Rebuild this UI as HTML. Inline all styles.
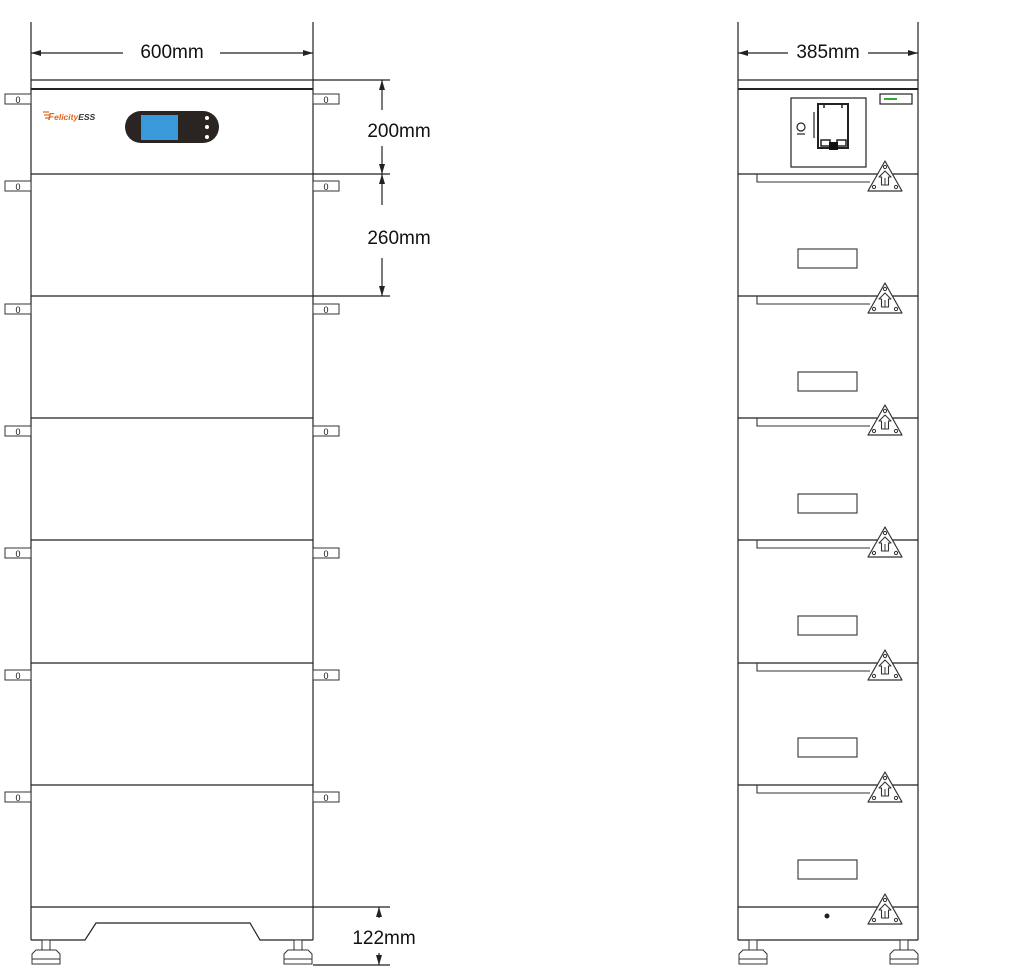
<!DOCTYPE html>
<html><head><meta charset="utf-8"><style>
html,body{margin:0;padding:0;background:#fff;}
svg{display:block;}
text{font-family:"Liberation Sans",Arial,sans-serif;fill:#111;}
</style></head><body>
<svg width="1023" height="971" viewBox="0 0 1023 971" xmlns="http://www.w3.org/2000/svg">
<defs>
<marker id="ar" viewBox="0 0 10 6" refX="10" refY="3" markerWidth="10" markerHeight="6" orient="auto-start-reverse" markerUnits="userSpaceOnUse"><path d="M0,0 L10,3 L0,6 z" fill="#222"/></marker>
<g id="tri">
<path d="M0,-14 L17,16 L-17,16 Z" fill="#fff" stroke="#333" stroke-width="1.2" stroke-linejoin="round"/>
<circle cx="0" cy="-8" r="1.6" fill="none" stroke="#333"/><circle cx="-11" cy="12" r="1.6" fill="none" stroke="#333"/><circle cx="11" cy="12" r="1.6" fill="none" stroke="#333"/>
<path d="M-3.5,10 V2 H-6 L0,-4 L6,2 H3.5 V10 Z" fill="none" stroke="#333" stroke-width="1.1" stroke-linejoin="round"/>
<line x1="0" y1="3" x2="0" y2="10" stroke="#333" stroke-width="1"/>
</g>
<g id="hl"><rect x="0" y="0" width="26" height="10" fill="#fff" stroke="#333" stroke-width="1"/><text x="13" y="9" font-size="9" text-anchor="middle">0</text></g>
<g id="ft"><rect x="10" y="0" width="8" height="10" fill="#fff" stroke="#333"/><path d="M4,10 H24 L28,14 V24 H0 V14 Z" fill="#fff" stroke="#333"/><line x1="0" y1="19" x2="28" y2="19" stroke="#333"/></g>
</defs>
<g stroke="#222" stroke-width="1.2" fill="none">
<line x1="31" y1="22" x2="31" y2="940"/><line x1="313" y1="22" x2="313" y2="940"/>
<line x1="31" y1="53" x2="123" y2="53" marker-start="url(#ar)"/><line x1="220" y1="53" x2="313" y2="53" marker-end="url(#ar)"/>
<line x1="31" y1="80" x2="390" y2="80"/><line x1="31" y1="89" x2="313" y2="89" stroke-width="2"/>
<line x1="31" y1="174" x2="390" y2="174"/><line x1="31" y1="296" x2="390" y2="296"/>
<line x1="31" y1="418" x2="313" y2="418"/><line x1="31" y1="540" x2="313" y2="540"/>
<line x1="31" y1="663" x2="313" y2="663"/><line x1="31" y1="785" x2="313" y2="785"/>
<line x1="31" y1="907" x2="390" y2="907"/><line x1="313" y1="965" x2="390" y2="965"/>
<path d="M31,940 H85 L96,923 H250 L260,940 H313"/>
<line x1="382" y1="80" x2="382" y2="110" marker-start="url(#ar)"/><line x1="382" y1="146" x2="382" y2="174" marker-end="url(#ar)"/>
<line x1="382" y1="174" x2="382" y2="205" marker-start="url(#ar)"/><line x1="382" y1="258" x2="382" y2="296" marker-end="url(#ar)"/>
<line x1="379" y1="907" x2="379" y2="918" marker-start="url(#ar)"/><line x1="379" y1="953" x2="379" y2="965" marker-end="url(#ar)"/>
<line x1="738" y1="22" x2="738" y2="940"/><line x1="918" y1="22" x2="918" y2="940"/>
<line x1="738" y1="53" x2="788" y2="53" marker-start="url(#ar)"/><line x1="868" y1="53" x2="918" y2="53" marker-end="url(#ar)"/>
<line x1="738" y1="80" x2="918" y2="80"/><line x1="738" y1="89" x2="918" y2="89" stroke-width="2"/>
<line x1="738" y1="174" x2="918" y2="174"/><line x1="738" y1="296" x2="918" y2="296"/>
<line x1="738" y1="418" x2="918" y2="418"/><line x1="738" y1="540" x2="918" y2="540"/>
<line x1="738" y1="663" x2="918" y2="663"/><line x1="738" y1="785" x2="918" y2="785"/>
<line x1="738" y1="907" x2="918" y2="907"/><line x1="738" y1="940" x2="918" y2="940"/>
<rect x="791" y="98" width="75" height="69"/>
<rect x="880" y="94" width="32" height="10"/>
<path d="M818,104 h30 v44 h-30 z" stroke-width="2"/><rect x="821" y="140" width="9" height="6" stroke-width="1.5"/><rect x="837" y="140" width="9" height="6" stroke-width="1.5"/>
<line x1="824" y1="104" x2="824" y2="108" stroke-width="1.5"/><line x1="842" y1="104" x2="842" y2="108" stroke-width="1.5"/>
<circle cx="801" cy="127" r="4"/><line x1="797" y1="134" x2="805" y2="134"/><line x1="814" y1="112" x2="814" y2="138"/>
</g>
<line x1="884" y1="99" x2="897" y2="99" stroke="#3a3" stroke-width="2"/>
<rect x="829" y="142" width="9" height="8" fill="#111"/>
<g stroke="#333" stroke-width="1.1" fill="none">
<path d="M757,174 V182 H870"/><path d="M757,296 V304 H870"/><path d="M757,418 V426 H870"/><path d="M757,540 V548 H870"/><path d="M757,663 V671 H870"/><path d="M757,785 V793 H870"/>
<rect x="798" y="249" width="59" height="19"/><rect x="798" y="372" width="59" height="19"/><rect x="798" y="494" width="59" height="19"/><rect x="798" y="616" width="59" height="19"/><rect x="798" y="738" width="59" height="19"/><rect x="798" y="860" width="59" height="19"/>
</g>
<circle cx="827" cy="916" r="2.5" fill="#222"/>
<use href="#tri" x="885" y="175"/><use href="#tri" x="885" y="297"/><use href="#tri" x="885" y="419"/><use href="#tri" x="885" y="541"/><use href="#tri" x="885" y="664"/><use href="#tri" x="885" y="786"/><use href="#tri" x="885" y="908"/>
<use href="#hl" x="5" y="94"/><use href="#hl" x="313" y="94"/>
<use href="#hl" x="5" y="181"/><use href="#hl" x="313" y="181"/>
<use href="#hl" x="5" y="304"/><use href="#hl" x="313" y="304"/>
<use href="#hl" x="5" y="426"/><use href="#hl" x="313" y="426"/>
<use href="#hl" x="5" y="548"/><use href="#hl" x="313" y="548"/>
<use href="#hl" x="5" y="670"/><use href="#hl" x="313" y="670"/>
<use href="#hl" x="5" y="792"/><use href="#hl" x="313" y="792"/>
<use href="#ft" x="32" y="940"/><use href="#ft" x="284" y="940"/>
<use href="#ft" x="739" y="940"/><use href="#ft" x="890" y="940"/>
<rect x="125" y="111" width="94" height="32" rx="16" fill="#2a2522"/>
<rect x="141" y="115" width="37" height="25" fill="#3a9ad9"/>
<circle cx="207" cy="118" r="2" fill="#fff"/><circle cx="207" cy="127" r="2" fill="#fff"/><circle cx="207" cy="137" r="2" fill="#fff"/>
<g stroke="#e0661c" stroke-width="1.2"><line x1="43" y1="112" x2="49" y2="112"/><line x1="44" y1="115" x2="49" y2="115"/><line x1="45" y1="118" x2="49" y2="118"/></g>
<text x="48" y="120" font-size="10" font-style="italic" font-weight="bold" style="fill:#e0661c">F<tspan font-size="8.5">elicity</tspan><tspan font-size="8.5" style="fill:#333">ESS</tspan></text>
<text x="172" y="58" font-size="19" text-anchor="middle">600mm</text>
<text x="828" y="58" font-size="19" text-anchor="middle">385mm</text>
<text x="399" y="137" font-size="19" text-anchor="middle">200mm</text>
<text x="399" y="244" font-size="19" text-anchor="middle">260mm</text>
<text x="384" y="944" font-size="19" text-anchor="middle">122mm</text>
</svg>
</body></html>
